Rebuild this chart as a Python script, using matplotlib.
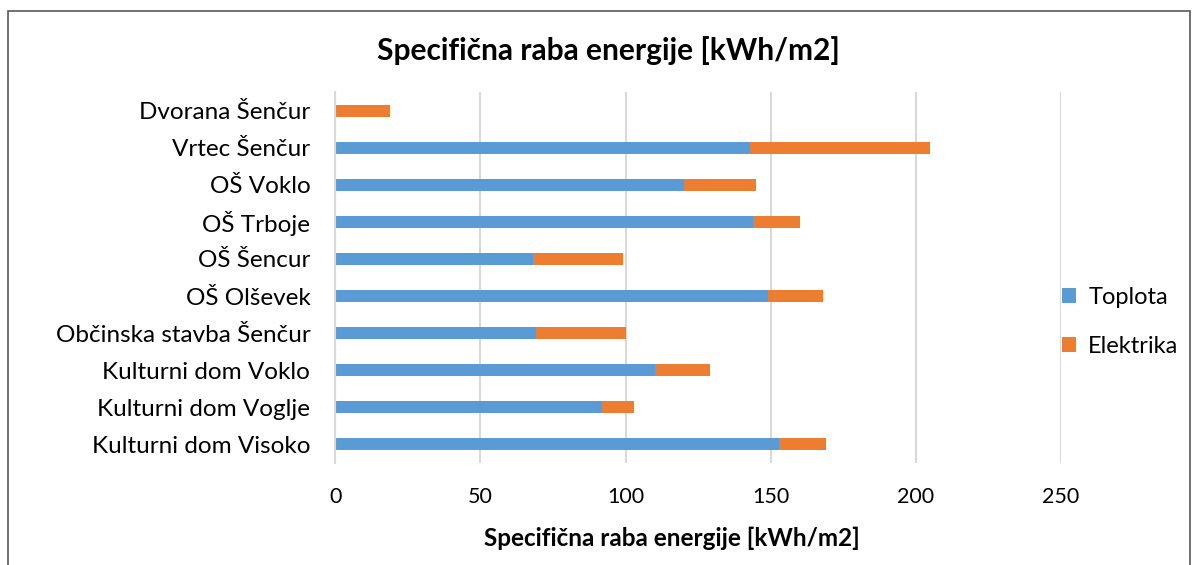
import matplotlib.pyplot as plt
from matplotlib.patches import Rectangle

# Buildings and specific energy use per heated area
stavbe = ["Kulturni dom Visoko", "Kulturni dom Voglje", "Kulturni dom Voklo",
          "Občinska stavba Šenčur", "OŠ Olševek", "OŠ Šencur", "OŠ Trboje",
          "OŠ Voklo", "Vrtec Šenčur", "Dvorana Šenčur"]
toplota = [153, 92, 110, 69, 149, 68, 144, 120, 143, 0]
elektrika = [16, 11, 19, 31, 19, 31, 16, 25, 62, 19]

plt.rcParams['font.family'] = ['Lato', 'DejaVu Sans']

fig = plt.figure(figsize=(11.98, 5.65), dpi=100)
ax = fig.add_axes([0.2799, 0.1814, 0.6057, 0.6549])

# chart frame
fig.patches.append(Rectangle((8 / 1198, -0.01), 1182 / 1198, 1 - 11 / 565 + 0.01,
                             transform=fig.transFigure, fill=False,
                             edgecolor="#595959", linewidth=1.2))

y = range(len(stavbe))
ax.barh(y, toplota, height=0.33, color="#5B9BD5", label="Toplota")
ax.barh(y, elektrika, left=toplota, height=0.33, color="#ED7D31", label="Elektrika")

ax.set_xlim(0, 250)
ax.set_ylim(-0.5, len(stavbe) - 0.5)
ax.set_xticks([0, 50, 100, 150, 200, 250])
ax.set_yticks(list(y))
ax.set_yticklabels(stavbe)
ax.tick_params(length=0, colors="#000000")
ax.tick_params(axis="y", pad=18, labelsize=17.5)
ax.tick_params(axis="x", pad=17.5, labelsize=15.5)
ax.grid(axis="x", color="#d9d9d9", linewidth=1.5)
ax.set_axisbelow(True)
for s in ["top", "right", "bottom"]:
    ax.spines[s].set_visible(False)
ax.spines["left"].set_color("#d9d9d9")
ax.spines["left"].set_linewidth(1.5)

fig.text(0.508, 0.91, "Specifična raba energije [kWh/m2]", ha="center", va="center",
         fontsize=21.5, fontweight="bold")
fig.text(0.561, 0.048, "Specifična raba energije [kWh/m2]", ha="center", va="center",
         fontsize=17.5, fontweight="bold")

fig.legend(loc="center left", bbox_to_anchor=(0.869, 0.43), frameon=False,
           fontsize=17, handlelength=0.6, handleheight=0.6, handletextpad=0.5,
           labelspacing=1.2)

fig.savefig("out.png", dpi=100)
